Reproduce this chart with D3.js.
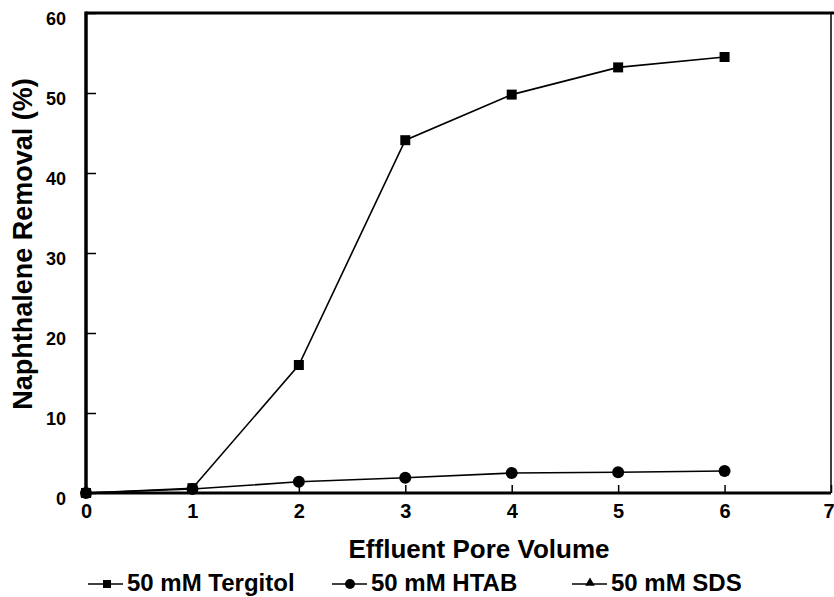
<!DOCTYPE html>
<html>
<head>
<meta charset="utf-8">
<script src="https://cdn.jsdelivr.net/npm/d3@7"></script>
<style>
  body { margin: 0; background: #fff; }
  text { font-family: "Liberation Sans", Arial, sans-serif; font-weight: bold; fill: #000; }
</style>
</head>
<body>
<div class="chart"></div>
<script>
// data
const poreVolume = [0, 1, 2, 3, 4, 5, 6];
const tergitol = [0, 0.6, 16, 44.1, 49.8, 53.2, 54.5];
const htab = [0, 0.5, 1.4, 1.9, 2.5, 2.6, 2.75];
const sds = [0];           // hidden under the other markers
const xTicks = [0, 1, 2, 3, 4, 5, 6, 7];
const yTicks = [0, 10, 20, 30, 40, 50, 60];
const legendNames = ['50 mM Tergitol', '50 mM HTAB', '50 mM SDS'];

const width = 834;
const height = 597;
const margin = {left: 86, right: 3, top: 13, bottom: 104};

const svg = d3.select('.chart')
    .append('svg')
    .attr('width', width)
    .attr('height', height);

const x = d3.scaleLinear().domain([0, 7]).range([margin.left, width - margin.right]);
const y = d3.scaleLinear().domain([0, 60]).range([height - margin.bottom, margin.top]);

//axes, ticks pointing inward
const xAxis = svg.append('g')
    .attr('transform', `translate(0,${y(0)})`)
    .call(d3.axisBottom(x).tickValues(xTicks).tickFormat(d3.format('d')).tickSize(-8).tickPadding(11));
xAxis.select('.domain').remove();
xAxis.selectAll('line').attr('stroke-width', 1.5);
xAxis.selectAll('text').attr('font-size', 20);
// last label sits on the right edge, keep it inside the page
xAxis.selectAll('text').filter(d => d == 7).attr('text-anchor', 'end').attr('dx', 3);

const yAxis = svg.append('g')
    .attr('transform', `translate(${x(0)},0)`)
    .call(d3.axisLeft(y).tickValues(yTicks).tickSize(-10).tickPadding(20));
yAxis.select('.domain').remove();
yAxis.selectAll('line').attr('stroke-width', 1.5);
yAxis.selectAll('text').attr('font-size', 18).attr('dy', '0.65em');

//frame
svg.append('line').attr('x1', x(0)).attr('x2', x(7)).attr('y1', y(0)).attr('y2', y(0))
    .attr('stroke', '#000').attr('stroke-width', 3);
svg.append('line').attr('x1', x(0)).attr('x2', x(0)).attr('y1', y(0) + 1.5).attr('y2', y(60) - 1.5)
    .attr('stroke', '#000').attr('stroke-width', 3.5);
svg.append('line').attr('x1', x(0)).attr('x2', width).attr('y1', y(60)).attr('y2', y(60))
    .attr('stroke', '#000').attr('stroke-width', 3);
svg.append('line').attr('x1', x(7)).attr('x2', x(7)).attr('y1', y(60)).attr('y2', y(0))
    .attr('stroke', '#000').attr('stroke-width', 1.5);

//lines
const line = d3.line()
    .x((d, i) => x(poreVolume[i]))
    .y(d => y(d));

[sds, htab, tergitol].forEach(s => {
    svg.append('path')
        .attr('d', line(s))
        .attr('fill', 'none')
        .attr('stroke', '#000')
        .attr('stroke-width', 1.6);
});

//markers
svg.selectAll('.tri')
    .data(sds)
    .enter()
    .append('path')
    .attr('d', d3.symbol(d3.symbolTriangle, 60)())
    .attr('transform', (d, i) => `translate(${x(poreVolume[i])},${y(d)})`);

svg.selectAll('.circ')
    .data(htab)
    .enter()
    .append('circle')
    .attr('cx', (d, i) => x(poreVolume[i]))
    .attr('cy', d => y(d))
    .attr('r', 6);

svg.selectAll('.sq')
    .data(tergitol)
    .enter()
    .append('rect')
    .attr('x', (d, i) => x(poreVolume[i]) - 5)
    .attr('y', d => y(d) - 5)
    .attr('width', 10)
    .attr('height', 10);

//axis titles
svg.append('text')
    .text('Effluent Pore Volume')
    .attr('x', 479)
    .attr('y', 558)
    .attr('text-anchor', 'middle')
    .attr('font-size', 26);

svg.append('text')
    .text('Naphthalene Removal (%)')
    .attr('transform', 'translate(32,244) rotate(-90)')
    .attr('text-anchor', 'middle')
    .attr('font-size', 27);

//legend
const legendX = [88, 332, 572];
const legend = svg.selectAll('.legend')
    .data(legendNames)
    .enter()
    .append('g')
    .attr('transform', (d, i) => `translate(${legendX[i]},584)`);

legend.append('line')
    .attr('x1', 0).attr('x2', 35)
    .attr('stroke', '#000').attr('stroke-width', 1.6);

legend.append('text')
    .text(d => d)
    .attr('x', 39)
    .attr('y', 7)
    .attr('font-size', 24);

legend.filter((d, i) => i == 0).append('rect')
    .attr('x', 15).attr('y', -4).attr('width', 8).attr('height', 8);
legend.filter((d, i) => i == 1).append('circle')
    .attr('cx', 18).attr('r', 5);
legend.filter((d, i) => i == 2).append('path')
    .attr('d', d3.symbol(d3.symbolTriangle, 40)())
    .attr('transform', 'translate(18,-1)');
</script>
</body>
</html>
